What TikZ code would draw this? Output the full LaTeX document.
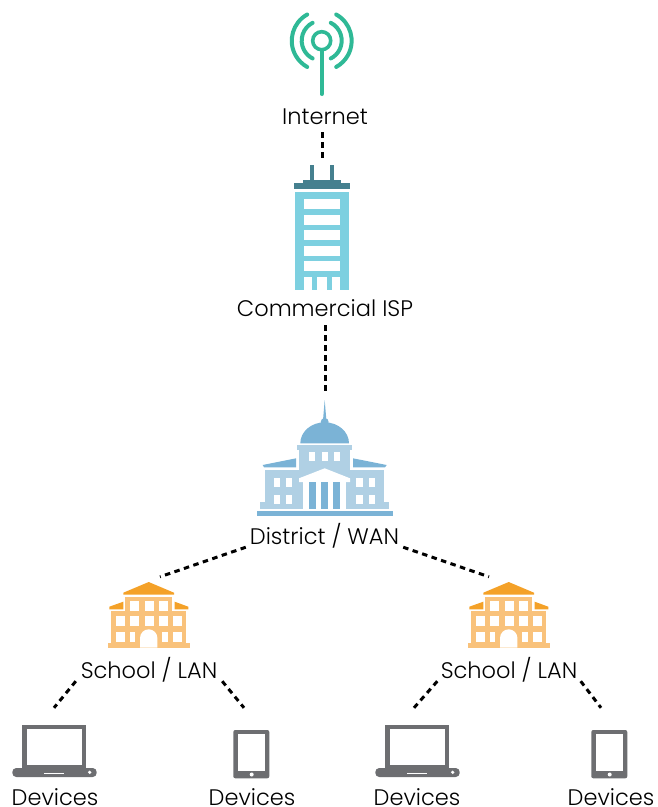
\documentclass[tikz,border=0pt]{standalone}
\usepackage{fontspec}
\setmainfont{Poppins}[UprightFont=* Light]
\definecolor{antennagreen}{HTML}{2FB996}
\definecolor{towerblue}{HTML}{7DD0E0}
\definecolor{towerdark}{HTML}{45808F}
\definecolor{domeblue}{HTML}{7BB3D6}
\definecolor{hallblue}{HTML}{B0D0E4}
\definecolor{roofamber}{HTML}{F4A128}
\definecolor{schoolamber}{HTML}{F9C27B}
\definecolor{devicegray}{HTML}{6D6E71}
\tikzset{
  place/.style={anchor=base,inner sep=0pt,text height=15pt,text depth=3pt,font=\fontsize{22.5}{26}\selectfont},
  iconbox/.style={inner sep=0pt,minimum width=0pt,minimum height=70pt},
  netlink/.style={black,line width=3pt,dash pattern=on 5.5pt off 4.5pt}
}
\begin{document}
\begin{tikzpicture}[x=1pt,y=-1pt]
\useasboundingbox (0,0) rectangle (657,807);

\draw [antennagreen,line width=3.6pt] (321.7,40.7) circle [radius=9];
\draw [antennagreen,line width=4pt,line cap=round] (321.7,51) -- (321.7,94);
\draw [antennagreen,line width=4pt,line cap=round] (312.6,22.8) arc [start angle=-117,end angle=-243,radius=20];
\draw [antennagreen,line width=4pt,line cap=round] (330.8,22.8) arc [start angle=-63,end angle=63,radius=20];
\draw [antennagreen,line width=4pt,line cap=round] (307.2,14.5) arc [start angle=-119,end angle=-241,radius=30];
\draw [antennagreen,line width=4pt,line cap=round] (336.2,14.5) arc [start angle=-61,end angle=61,radius=30];

\fill [towerdark] (310.3,165) rectangle (313.7,181);
\fill [towerdark] (330.3,165) rectangle (333.7,181);
\fill [towerdark] (302.7,180) rectangle (341.3,183);
\fill [towerdark] (294,183) rectangle (350,189);
\fill [towerblue] (295.3,191.7) rectangle (348.7,290);
\foreach \y in {199.3,215,230.3,246,261.3}
  \fill [white] (304,\y) rectangle (340,\y+10);
\fill [white] (304,276.7) rectangle (312.3,290);
\fill [white] (317.3,276.7) rectangle (327,290);
\fill [white] (332,276.7) rectangle (340,290);

\fill [domeblue] (300.3,443.3) arc [start angle=180,end angle=360,x radius=24.35,y radius=21];
\fill [domeblue] (322.7,424) -- (324.7,400) -- (326.7,424) -- cycle;
\fill [domeblue] (324.7,422) circle [radius=4];
\fill [hallblue] (297,445) rectangle (352,450);
\fill [hallblue] (299,450) rectangle (350.3,482);
\fill [hallblue] (264.7,470) rectangle (303.3,502.3);
\fill [hallblue] (346,470) rectangle (384.3,502.3);
\fill [hallblue] (260,502.3) rectangle (303.3,509);
\fill [hallblue] (346,502.3) rectangle (388.7,509);
\fill [domeblue] (262.7,465) -- (296,458.3) -- (296,467.3) -- (264,467.3) -- cycle;
\fill [domeblue] (386.7,465) -- (353,458.3) -- (353,467.3) -- (385,467.3) -- cycle;
\fill [white] (303.3,482) rectangle (346,509);
\fill [white] (324.7,468.3) -- (299,478.3) -- (299,482) -- (350,482) -- (350,478.3) -- cycle;
\foreach \x in {309,321.3,333}
  \fill [domeblue] (\x,482) rectangle (\x+6.8,509);
\foreach \x in {308.7,321.7,334}
  \fill [white] (\x,451.7) rectangle (\x+6.3,460.7);
\foreach \x in {273.7,286,356.3,369}{
  \fill [white] (\x,478.3) rectangle (\x+6.4,487);
  \fill [white] (\x,495.3) rectangle (\x+6.4,504);
}
\fill [domeblue] (257,510.7) rectangle (393,516);

\foreach \dx in {0,360}{
\begin{scope}[shift={(\dx,0)}]
\fill [roofamber] (148.7,582) -- (123.3,592.7) -- (123.3,594.7) -- (174,594.7) -- (174,592.7) -- cycle;
\fill [roofamber] (109.3,606.7) -- (123.3,601.7) -- (123.3,609.3) -- (109.3,609.3) -- cycle;
\fill [roofamber] (188.3,606.7) -- (174.7,601.7) -- (174.7,609.3) -- (188.3,609.3) -- cycle;
\fill [schoolamber] (125,596.7) rectangle (172.3,613);
\fill [schoolamber] (111.3,611) rectangle (186,643.3);
\fill [schoolamber] (107.7,643.3) rectangle (190,647.7);
\foreach \x in {130.3,144.7,158.7}
  \fill [white] (\x,600.7) rectangle (\x+9,610.7);
\foreach \x in {116,130.3,144.7,158.7,172.7}
  \fill [white] (\x,616) rectangle (\x+9,626);
\fill [white] (116,631.7) rectangle (125,641.7);
\fill [white] (130.3,631.7) rectangle (135.3,641.7);
\fill [white] (162.3,631.7) rectangle (167.7,641.7);
\fill [white] (172.7,631.7) rectangle (181.7,641.7);
\fill [white] (140,647.7) -- (140,638) arc [start angle=180,end angle=360,radius=8.7] -- (157.4,647.7) -- cycle;
\end{scope}
}

\foreach \dx in {0,363}{
\begin{scope}[shift={(\dx,0)}]
\fill [devicegray] (22,725) rectangle (86.3,768);
\fill [white] (26.7,729.3) rectangle (82,765.3);
\fill [devicegray,rounded corners=4pt] (12.3,768) rectangle (96.7,777);
\fill [white] (44.3,772.7) rectangle (64.3,774);
\fill [white] (89.7,772.3) circle [radius=1.8];
\end{scope}
}

\foreach \dx in {0,358}{
\begin{scope}[shift={(\dx,0)}]
\fill [devicegray,rounded corners=2pt] (233.3,730) rectangle (269.3,778.3);
\fill [white] (237.7,734.3) rectangle (265.3,771);
\fill [white] (251.7,774.5) circle [radius=2];
\end{scope}
}

\node [place,text depth=8pt] (internet) at (325,124) {Internet};
\node [place,text depth=9pt] (isp) at (325,316) {Commercial ISP};
\node [place,minimum width=157pt] (district) at (324.5,544) {District\kern6pt/\kern6ptWAN};
\node [place,minimum width=146pt] (schoolA) at (149,678) {School\kern6pt/\kern6ptLAN};
\node [place,minimum width=143pt] (schoolB) at (509,678) {School\kern6pt/\kern6ptLAN};
\node [place,text depth=1pt] (devicesA) at (55,805) {Devices};
\node [place,text depth=1pt] (devicesB) at (252,805) {Devices};
\node [place,text depth=1pt] (devicesC) at (417,805) {Devices};
\node [place,text depth=1pt] (devicesD) at (611,805) {Devices};

\node [iconbox] (tower) at (322,197) {};
\node [iconbox] (capitol) at (325,428) {};
\node [iconbox] (buildingA) at (160,612) {};
\node [iconbox] (buildingB) at (489,612) {};
\node [iconbox] (laptopA) at (54,743) {};
\node [iconbox] (tabletA) at (244,743) {};
\node [iconbox] (laptopB) at (414,743) {};
\node [iconbox] (tabletB) at (601,743) {};

\draw [netlink] (internet.south -| tower.north) -- (tower.north);
\draw [netlink] (isp.south) -- (capitol.north);
\draw [netlink] (district.south west) -- (buildingA.north);
\draw [netlink] (district.south east) -- (buildingB.north);
\draw [netlink] (schoolA.south west) -- (laptopA.north);
\draw [netlink] (schoolA.south east) -- (tabletA.north);
\draw [netlink] (schoolB.south west) -- (laptopB.north);
\draw [netlink] (schoolB.south east) -- (tabletB.north);
\end{tikzpicture}
\end{document}
